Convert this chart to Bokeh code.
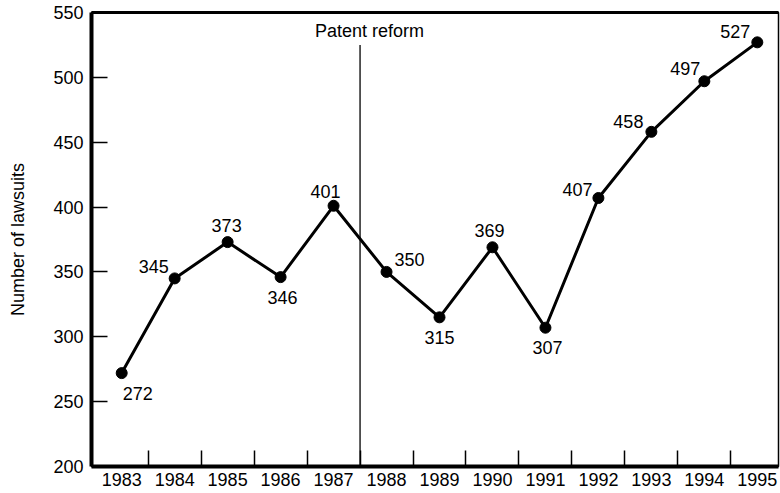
from bokeh.plotting import figure
from bokeh.models import ColumnDataSource, FixedTicker, LinearAxis, Range1d, Segment
from bokeh.core.properties import value
from bokeh.embed import file_html
from bokeh.resources import INLINE

years = [1983, 1984, 1985, 1986, 1987, 1988, 1989, 1990, 1991, 1992, 1993, 1994, 1995]
lawsuits = [272, 345, 373, 346, 401, 350, 315, 369, 307, 407, 458, 497, 527]
labels = [str(v) for v in lawsuits]
# label offsets in screen pixels (dx, dy; dy positive = down)
label_dx = [16, -21, -1, 2, -8, 23, 0, -3, 2, -21, -23, -19, -22]
label_dy = [20, -12, -17, 20, -14, -12, 20, -17, 20, -8, -10, -13, -11]
y_ticks = [200, 250, 300, 350, 400, 450, 500, 550]
x_minor_ticks = [y + 0.5 for y in years[:-1]]
reform_x = 1987.5
reform_text = "Patent reform"
y_title = "Number of lawsuits"

FONT = "Liberation Sans"

p = figure(width=780, height=493, output_backend="svg", toolbar_location=None,
           x_range=Range1d(1982.43, 1995.4), y_range=Range1d(200, 550),
           min_border_left=91, min_border_right=2, min_border_top=12, min_border_bottom=27)
p.background_fill_color = "white"
p.border_fill_color = "white"
p.grid.visible = False
p.outline_line_color = "black"
p.outline_line_width = 1.5

# y axis
ya = p.yaxis[0]
ya.ticker = FixedTicker(ticks=y_ticks)
ya.major_tick_in = 16
ya.major_tick_out = 0
ya.minor_tick_in = 0
ya.minor_tick_out = 0
ya.major_tick_line_width = 1.5
ya.axis_line_width = 4
ya.major_label_standoff = 8
ya.major_label_text_font = FONT
ya.major_label_text_font_size = "18px"
ya.major_label_text_color = "black"
ya.axis_label = y_title
ya.axis_label_text_font = FONT
ya.axis_label_text_font_size = "18px"
ya.axis_label_text_font_style = "normal"
ya.axis_label_text_color = "black"
ya.axis_label_standoff = 22

# x axis
xa = p.xaxis[0]
xa.ticker = FixedTicker(ticks=years, minor_ticks=x_minor_ticks)
xa.major_tick_in = 0
xa.major_tick_out = 0
xa.minor_tick_in = 16
xa.minor_tick_out = 0
xa.minor_tick_line_width = 1.5
xa.minor_tick_line_color = "black"
xa.axis_line_width = 4
xa.major_label_standoff = 6
xa.major_label_text_font = FONT
xa.major_label_text_font_size = "18px"
xa.major_label_text_color = "black"

# thick top edge
top = LinearAxis(ticker=FixedTicker(ticks=[]), major_tick_out=0, major_tick_in=0,
                 minor_tick_out=0, minor_tick_in=0, axis_line_width=3,
                 major_label_text_font_size="0px")
p.add_layout(top, "above")

# patent reform line
src_ref = ColumnDataSource(dict(x0=[reform_x], y0=[200], x1=[reform_x], y1=[525]))
p.add_glyph(src_ref, Segment(x0="x0", y0="y0", x1="x1", y1="y1", line_color="black", line_width=1.3))
p.text(x=[reform_x + 0.18], y=[535.5], text=[reform_text], text_align="center",
       text_baseline="middle", text_font=value(FONT), text_font_size="18px", text_color="black")

src = ColumnDataSource(dict(x=years, y=lawsuits, lab=labels, dx=label_dx, dy=label_dy))
p.line("x", "y", source=src, line_color="black", line_width=3)
p.scatter("x", "y", source=src, size=11, fill_color="black", line_color="black")
p.text("x", "y", text="lab", source=src, x_offset="dx", y_offset="dy",
       text_align="center", text_baseline="middle", text_font=value(FONT),
       text_font_size="18px", text_color="black")

open("out.html", "w").write(file_html(p, INLINE))
